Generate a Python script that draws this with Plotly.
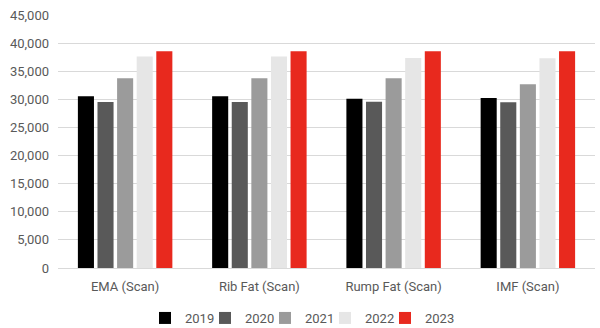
import plotly.graph_objects as go

categories = ["EMA (Scan)", "Rib Fat (Scan)", "Rump Fat (Scan)", "IMF (Scan)"]
years = ["2019", "2020", "2021", "2022", "2023"]
values = {
    "2019": [30530, 30530, 30120, 30250],
    "2020": [29540, 29540, 29590, 29470],
    "2021": [33740, 33740, 33740, 32670],
    "2022": [37600, 37600, 37370, 37300],
    "2023": [38540, 38540, 38540, 38540],
}
colors = ["#000000", "#595959", "#9b9b9b", "#e6e6e6", "#e8291e"]
tick_vals = [0, 5000, 10000, 15000, 20000, 25000, 30000, 35000, 40000, 45000]
tick_text = ["0", "5,000", "10,000", "15,000", "20,000", "25,000", "30,000", "35,000", "40,000", "45,000"]
legend_left_px = [145, 205, 265, 325, 385]

fig = go.Figure()
legend_layout = {}
for i, (y, c) in enumerate(zip(years, colors)):
    lname = "legend" if i == 0 else f"legend{i + 1}"
    fig.add_trace(go.Bar(x=categories, y=values[y], name=y, marker_color=c,
                         marker_line_width=0, legend=lname))
    legend_layout[lname] = dict(
        orientation="h", xref="container", x=legend_left_px[i] / 600, xanchor="left",
        yref="container", y=10 / 328, yanchor="middle",
        font=dict(size=13, color="#595959"), itemwidth=30, bgcolor="rgba(0,0,0,0)",
    )

fig.update_layout(
    width=600, height=328,
    margin=dict(l=58, r=5, t=15, b=60),
    paper_bgcolor="white", plot_bgcolor="white",
    barmode="group", bargap=0.27, bargroupgap=0.18,
    font=dict(family="Roboto", size=12, color="#595959"),
    showlegend=True,
    xaxis=dict(showgrid=False, showline=True, linecolor="#d9d9d9", linewidth=1, ticks="",
               tickfont=dict(size=13, color="#595959"), ticklabelstandoff=6),
    yaxis=dict(range=[0, 45000], tickvals=tick_vals, ticktext=tick_text, showgrid=True,
               gridcolor="#d9d9d9", gridwidth=1, zeroline=False, ticks="",
               tickfont=dict(size=13, color="#595959"), ticklabelstandoff=8),
    **legend_layout,
)

fig.write_html("out.html")
